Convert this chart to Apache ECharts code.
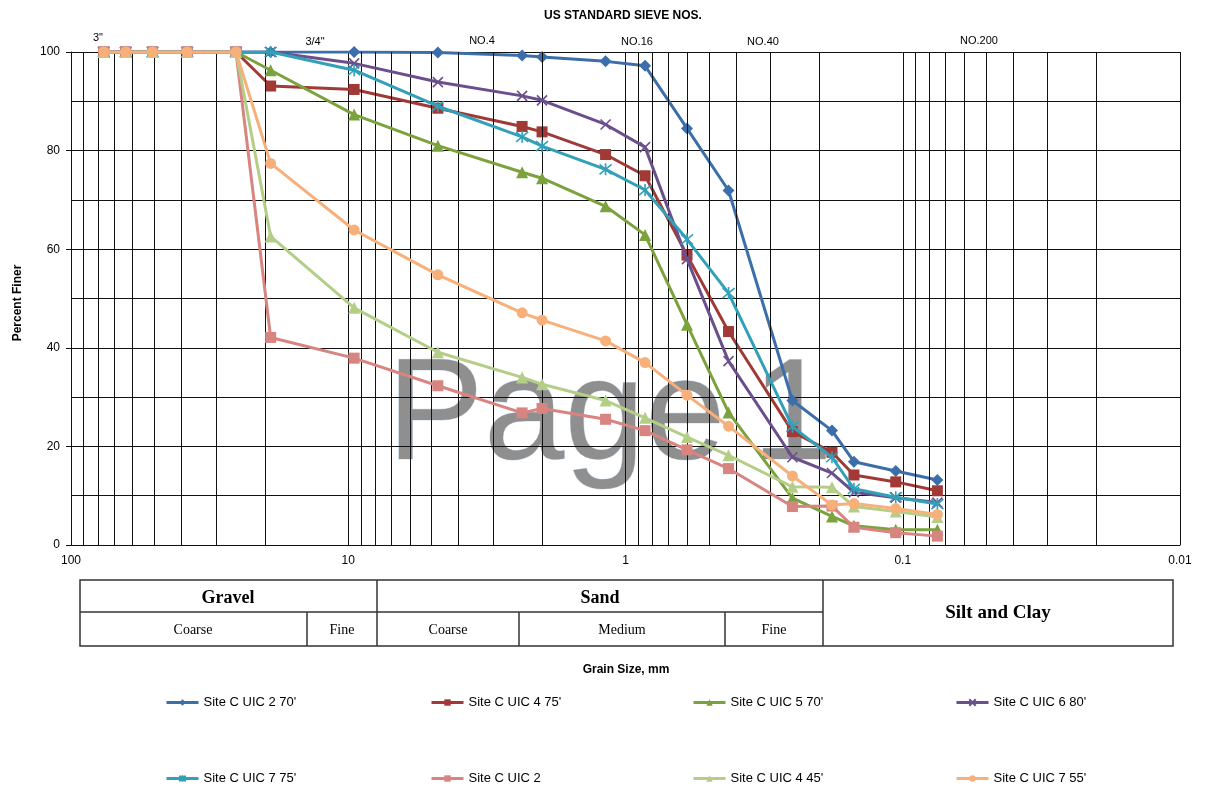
<!DOCTYPE html>
<html><head><meta charset="utf-8">
<script src="https://cdn.jsdelivr.net/npm/echarts@6/dist/echarts.min.js"></script>
<style>html,body{margin:0;padding:0;background:#fff}#c{width:1205px;height:789px}</style>
</head><body><div id="c"></div>
<script>
// Sieve opening sizes (mm)
const sieveSizes = [76.2, 63.5, 50.8, 38.1, 25.4, 19.05, 9.525, 4.75, 2.36, 2.0, 1.18, 0.85, 0.6, 0.425, 0.25, 0.18, 0.15, 0.106, 0.075];
const seriesNames = ["Site C UIC 2 70'", "Site C UIC 4 75'", "Site C UIC 5 70'", "Site C UIC 6 80'", "Site C UIC 7 75'", "Site C UIC 2", "Site C UIC 4 45'", "Site C UIC 7 55'"];
const uic2_70 = [100,100,100,100,100,100,100,99.9,99.3,99.0,98.1,97.2,84.5,71.9,29.3,23.2,16.9,15.0,13.2];
const uic4_75 = [100,100,100,100,100,93.1,92.4,88.6,84.9,83.8,79.2,74.9,58.8,43.3,23.0,18.8,14.2,12.8,11.0];
const uic5_70 = [100,100,100,100,100,96.3,87.3,81.0,75.6,74.4,68.7,62.9,44.7,26.9,9.5,5.8,3.9,3.1,3.1];
const uic6_80 = [100,100,100,100,100,100,97.7,93.9,91.1,90.2,85.3,80.7,58.0,37.3,17.8,14.6,10.7,9.6,8.6];
const uic7_75 = [100,100,100,100,100,100,96.3,89.0,82.8,80.9,76.2,72.0,62.0,51.1,24.0,17.8,11.4,9.7,8.3];
const uic2 = [100,100,100,100,100,42.1,37.9,32.3,26.8,27.7,25.5,23.2,19.3,15.5,7.8,7.9,3.6,2.5,1.8];
const uic4_45 = [100,100,100,100,100,62.6,48.1,39.1,34.0,32.6,29.3,25.8,21.9,18.2,11.8,11.7,7.8,6.8,5.7];
const uic7_55 = [100,100,100,100,100,77.4,63.9,54.8,47.1,45.6,41.4,37.0,30.4,24.1,14.0,8.1,8.4,7.4,6.2];
const seriesValues = [uic2_70, uic4_75, uic5_70, uic6_80, uic7_75, uic2, uic4_45, uic7_55];
const xTickLabels = [100, 10, 1, 0.1, 0.01];
const yTickLabels = [0, 20, 40, 60, 80, 100];
const sieveLabels = ['3"', '3/4"', 'NO.4', 'NO.16', 'NO.40', 'NO.200'];
const topTitle = 'US STANDARD SIEVE NOS.';
const xTitle = 'Grain Size, mm';
const yTitle = 'Percent Finer';
const watermarkWords = ['Page', '1'];

const colors = ['#3C6EA9', '#A13A37', '#7BA23C', '#6B4F8D', '#31A0B8', '#D88481', '#B4CE88', '#F8B07B'];
const symbols = ['diamond', 'rect', 'triangle', 'path://M0,0L10,10M10,0L0,10', 'path://M0,0L10,10M10,0L0,10M5,-1L5,11', 'rect', 'triangle', 'circle'];
const symSizes = [12, 11, 12, 10, 12, 11, 12, 11];

// minor log grid lines
const minorGrid = [];
for (let k = -2; k <= 1; k++) for (let m = 2; m <= 9; m++) minorGrid.push(+(m * Math.pow(10, k)).toPrecision(3));

const series = seriesNames.map((n, i) => ({
  name: n, type: 'line', z: 3 + i,
  data: sieveSizes.map((s, j) => [s, seriesValues[i][j]]),
  symbol: symbols[i], symbolSize: symSizes[i], showSymbol: true,
  lineStyle: { color: colors[i], width: 3 },
  itemStyle: { color: colors[i], borderColor: colors[i], borderWidth: (i === 3 || i === 4) ? 1.6 : 0 }
}));
series.unshift({
  name: '_grid', type: 'line', data: [], silent: true, z: 1,
  markLine: { silent: true, symbol: 'none', label: { show: false }, animation: false,
    lineStyle: { color: '#111', width: 1, type: 'solid' },
    data: minorGrid.map(v => ({ xAxis: v })) }
});

const legendPos = [[165, 696], [430, 696], [692, 696], [955, 696], [165, 772], [430, 772], [692, 772], [955, 772]];
const legends = seriesNames.map((n, i) => ({
  data: [n], left: legendPos[i][0], top: legendPos[i][1], padding: 0,
  itemWidth: 32, itemHeight: 8, itemGap: 0,
  lineStyle: { width: 3 },
  textStyle: { fontSize: 13, fontFamily: 'Liberation Sans, Arial', color: '#000' }
}));

const sievePos = [[98, 38], [315, 42], [482, 41], [637, 42], [763, 42], [979, 41]];
const graphics = [];
sieveLabels.forEach((t, i) => graphics.push({ type: 'text', silent: true, z: 10,
  style: { text: t, x: sievePos[i][0], y: sievePos[i][1], font: '11px "Liberation Sans", Arial', fill: '#000', align: 'center', verticalAlign: 'middle', textAlign: 'center', textVerticalAlign: 'middle' } }));
graphics.push({ type: 'text', silent: true, z: 10,
  style: { text: topTitle, x: 623, y: 16, font: 'bold 12px "Liberation Sans", Arial', fill: '#000', align: 'center', verticalAlign: 'middle', textAlign: 'center', textVerticalAlign: 'middle' } });
graphics.push({ type: 'text', silent: true, z: 10,
  style: { text: xTitle, x: 626, y: 670, font: 'bold 12px "Liberation Sans", Arial', fill: '#000', align: 'center', verticalAlign: 'middle', textAlign: 'center', textVerticalAlign: 'middle' } });
graphics.push({ type: 'text', silent: true, z: 10, x: 18, y: 303, rotation: Math.PI / 2,
  style: { text: yTitle, x: 0, y: 0, font: 'bold 12px "Liberation Sans", Arial', fill: '#000', align: 'center', verticalAlign: 'middle', textAlign: 'center', textVerticalAlign: 'middle' } });
// watermark
const wmX = [387, 752];
watermarkWords.forEach((w, i) => graphics.push({ type: 'text', silent: true, z: -5,
  style: { text: w, x: wmX[i], y: 492, font: '145px "Liberation Sans", Arial', fill: '#8f8f8f', stroke: '#d3e5f3', lineWidth: 1, align: 'left', verticalAlign: 'bottom', textAlign: 'left', textVerticalAlign: 'bottom' } }));

// classification table
const tL = 80, tR = 1173, tT = 580, tM = 612, tB = 646;
const lineSt = { stroke: '#333', lineWidth: 1.5 };
graphics.push({ type: 'rect', silent: true, shape: { x: tL, y: tT, width: tR - tL, height: tB - tT }, style: { fill: 'none', stroke: '#333', lineWidth: 1.5 } });
graphics.push({ type: 'line', silent: true, shape: { x1: tL, y1: tM, x2: 823, y2: tM }, style: lineSt });
graphics.push({ type: 'line', silent: true, shape: { x1: 377, y1: tT, x2: 377, y2: tB }, style: lineSt });
graphics.push({ type: 'line', silent: true, shape: { x1: 823, y1: tT, x2: 823, y2: tB }, style: lineSt });
[307, 519, 725].forEach(x => graphics.push({ type: 'line', silent: true, shape: { x1: x, y1: tM, x2: x, y2: tB }, style: lineSt }));
const tableTexts = [
  ['Gravel', 228, 598, 'bold 18px "Liberation Serif", serif'],
  ['Sand', 600, 598, 'bold 18px "Liberation Serif", serif'],
  ['Silt and Clay', 998, 613, 'bold 19px "Liberation Serif", serif'],
  ['Coarse', 193, 630, '14px "Liberation Serif", serif'],
  ['Fine', 342, 630, '14px "Liberation Serif", serif'],
  ['Coarse', 448, 630, '14px "Liberation Serif", serif'],
  ['Medium', 622, 630, '14px "Liberation Serif", serif'],
  ['Fine', 774, 630, '14px "Liberation Serif", serif']
];
tableTexts.forEach(t => graphics.push({ type: 'text', silent: true,
  style: { text: t[0], x: t[1], y: t[2], font: t[3], fill: '#000', align: 'center', verticalAlign: 'middle', textAlign: 'center', textVerticalAlign: 'middle' } }));

const chart = echarts.init(document.getElementById('c'), null, { renderer: 'canvas' });
chart.setOption({
  animation: false,
  backgroundColor: '#fff',
  grid: { left: 71, right: 25, top: 52, bottom: 244, containLabel: false },
  legend: legends,
  xAxis: {
    type: 'log', logBase: 10, inverse: true, min: 0.01, max: 100,
    axisLine: { show: true, lineStyle: { color: '#111', width: 1 } },
    axisTick: { show: false },
    axisLabel: { fontSize: 12, color: '#000', fontFamily: 'Liberation Sans, Arial', margin: 10,
      formatter: v => { const f = xTickLabels.find(t => Math.abs(Math.log10(t) - Math.log10(v)) < 1e-6); return f === undefined ? '' : String(f); } },
    splitLine: { show: true, lineStyle: { color: '#111', width: 1 } }
  },
  yAxis: {
    type: 'value', min: 0, max: 100, interval: 20,
    axisLine: { show: true, lineStyle: { color: '#111', width: 1 } },
    axisTick: { show: true, length: 5, lineStyle: { color: '#111' } },
    axisLabel: { fontSize: 12, color: '#000', fontFamily: 'Liberation Sans, Arial', margin: 11,
      formatter: v => yTickLabels.includes(v) ? String(v) : '' },
    splitLine: { show: true, lineStyle: { color: '#111', width: 1 } },
    minorTick: { show: false, splitNumber: 2 },
    minorSplitLine: { show: true, lineStyle: { color: '#111', width: 1 } }
  },
  graphic: { elements: graphics },
  series: series
});
</script></body></html>
